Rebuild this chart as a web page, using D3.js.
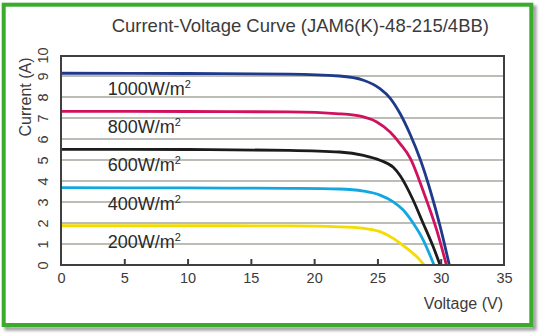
<!DOCTYPE html>
<html>
<head>
<meta charset="utf-8">
<script src="https://cdn.jsdelivr.net/npm/d3@7"></script>
<style>
  html, body { margin: 0; padding: 0; background: #fff; }
  svg { display: block; font-family: "Liberation Sans", Arial, Helvetica, sans-serif; }
</style>
</head>
<body>
<svg id="chart" width="540" height="334"></svg>
<script>
// Irradiance levels and their I-V curves (voltage V, current A)
const irradianceLabels = ["1000W/m", "800W/m", "600W/m", "400W/m", "200W/m"];
const seriesColors = ["#1f3a8a", "#d0125e", "#1c1c1c", "#12a7de", "#f3dc00"];

const curve1000 = [[0, 9.13], [10, 9.12], [18, 9.09], [22, 9.0], [23.9, 8.8], [25.2, 8.4], [26.0, 7.95],
  [26.8, 7.2], [27.6, 6.2], [28.4, 5.0], [29.2, 3.5], [29.95, 1.85], [30.68, 0]];
const curve800 = [[0, 7.32], [10, 7.31], [18, 7.29], [22, 7.2], [23.9, 7.05], [24.95, 6.81], [26.0, 6.33],
  [26.8, 5.77], [27.6, 5.08], [28.6, 3.55], [29.68, 1.67], [30.45, 0]];
const curve600 = [[0, 5.51], [10, 5.5], [18, 5.46], [22, 5.38], [23.9, 5.22], [25.2, 4.99], [26.25, 4.65],
  [26.8, 4.25], [27.8, 3.12], [28.6, 2.0], [29.4, 0.88], [29.95, 0]];
const curve400 = [[0, 3.68], [10, 3.67], [18, 3.65], [22, 3.62], [23.9, 3.52], [25.2, 3.33], [26.25, 3.01],
  [27.04, 2.62], [27.83, 1.99], [28.62, 1.19], [29.47, 0]];
const curve200 = [[0, 1.87], [10, 1.87], [18, 1.86], [22, 1.82], [23.9, 1.75], [25.2, 1.59], [26.25, 1.27],
  [27.3, 0.8], [28.1, 0.4], [28.68, 0]];
const curves = [curve1000, curve800, curve600, curve400, curve200];

const xTicks = [0, 5, 10, 15, 20, 25, 30, 35];
const yTicks = [0, 1, 2, 3, 4, 5, 6, 7, 8, 9, 10];

const titleText = "Current-Voltage Curve (JAM6(K)-48-215/4BB)";
const xTitle = "Voltage (V)";
const yTitle = "Current (A)";

const svg = d3.select("#chart");
const textColor = "#3b3b3b";

// Card: soft shadow, white fill, green border
const defs = svg.append("defs");
const blur = defs.append("filter").attr("id", "shadowBlur")
  .attr("x", "-5%").attr("y", "-5%").attr("width", "110%").attr("height", "110%");
blur.append("feGaussianBlur").attr("stdDeviation", 1.4);

svg.append("rect")
  .attr("x", 6.5).attr("y", 7.5).attr("width", 528).attr("height", 321)
  .attr("fill", "none").attr("stroke", "#9a9a9a").attr("stroke-width", 4)
  .attr("filter", "url(#shadowBlur)");
svg.append("rect")
  .attr("x", 3.7).attr("y", 4.7).attr("width", 527.6).attr("height", 320.3)
  .attr("fill", "#fff").attr("stroke", "#3aab2c").attr("stroke-width", 4);

// Plot area
const plotLeft = 61, plotRight = 504, plotTop = 55, plotBottom = 265;
const x = d3.scaleLinear().domain([0, 35]).range([plotLeft, plotRight]);
const y = d3.scaleLinear().domain([0, 10]).range([plotBottom, plotTop]);

// Horizontal gridlines
svg.append("g").selectAll("line")
  .data(yTicks.filter(d => d > 0 && d < 10))
  .join("line")
  .attr("x1", x(0)).attr("x2", x(35))
  .attr("y1", d => y(d)).attr("y2", d => y(d))
  .attr("stroke", "#bdbdb7").attr("stroke-width", 2);

// I-V curves
const line = d3.line()
  .x(d => x(d[0]))
  .y(d => y(d[1]))
  .curve(d3.curveMonotoneX);

svg.append("g").selectAll("path")
  .data(curves)
  .join("path")
  .attr("d", line)
  .attr("fill", "none")
  .attr("stroke", (d, i) => seriesColors[i])
  .attr("stroke-width", 2.8)
  .attr("stroke-linejoin", "round");

// Irradiance labels below each curve
const labels = svg.append("g").selectAll("text")
  .data(curves)
  .join("text")
  .attr("x", x(3.7))
  .attr("y", d => y(d[0][1]) + 22)
  .attr("fill", "#2a2a2a")
  .attr("font-size", "18px");
labels.append("tspan").text((d, i) => irradianceLabels[i]);
labels.append("tspan").attr("font-size", "11px").attr("dy", -7).text("2");

// Frame
svg.append("rect")
  .attr("x", plotLeft).attr("y", plotTop + 1)
  .attr("width", plotRight - plotLeft).attr("height", plotBottom - plotTop - 1)
  .attr("fill", "none").attr("stroke", "#3f3f3f").attr("stroke-width", 2);

// X axis: inward ticks and labels
const xAxis = svg.append("g")
  .attr("transform", `translate(0,${plotBottom})`)
  .call(d3.axisBottom(x).tickValues(xTicks).tickSize(-6).tickPadding(0).tickFormat(d3.format("d")));
xAxis.select(".domain").remove();
xAxis.selectAll(".tick line")
  .attr("stroke", "#3f3f3f").attr("stroke-width", 2)
  .attr("display", d => (d === 0 || d === 35) ? "none" : null);
xAxis.selectAll(".tick text")
  .attr("y", 18).attr("dy", 0)
  .attr("fill", textColor).attr("font-size", "14.5px")
  .attr("font-family", "Liberation Sans, Arial, sans-serif");

// Y axis: rotated tick labels
const yAxis = svg.append("g")
  .attr("transform", `translate(${plotLeft},0)`)
  .call(d3.axisLeft(y).tickValues(yTicks).tickSize(0).tickFormat(d3.format("d")));
yAxis.select(".domain").remove();
yAxis.selectAll(".tick text")
  .attr("x", null).attr("dy", null)
  .attr("transform", "translate(-13,0) rotate(-90)")
  .attr("text-anchor", "middle")
  .attr("fill", textColor).attr("font-size", "14.5px")
  .attr("font-family", "Liberation Sans, Arial, sans-serif");

// Titles
svg.append("text")
  .attr("x", 489).attr("y", 32)
  .attr("text-anchor", "end")
  .attr("fill", textColor).attr("font-size", "18.5px")
  .text(titleText);

svg.append("text")
  .attr("x", 503).attr("y", 309)
  .attr("text-anchor", "end")
  .attr("fill", textColor).attr("font-size", "16px")
  .text(xTitle);

svg.append("text")
  .attr("transform", "translate(31,97) rotate(-90)")
  .attr("text-anchor", "middle")
  .attr("fill", textColor).attr("font-size", "16px")
  .text(yTitle);
</script>
</body>
</html>
